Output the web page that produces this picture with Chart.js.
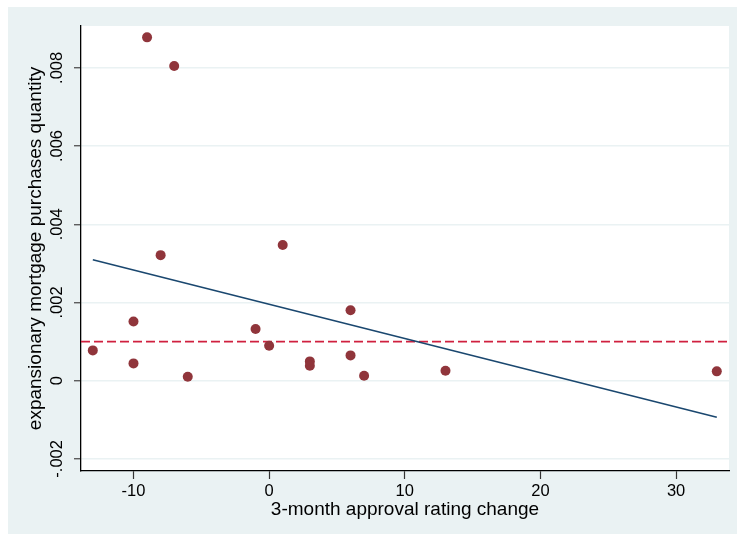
<!DOCTYPE html>
<html>
<head>
<meta charset="utf-8">
<script src="https://cdn.jsdelivr.net/npm/chart.js@4.4.1/dist/chart.umd.min.js"></script>
<style>
  html, body { margin: 0; padding: 0; background: #ffffff; }
  #wrap { width: 737px; height: 540px; }
</style>
</head>
<body>
<div id="wrap"><canvas id="c" width="737" height="540"></canvas></div>
<script>
// ---- data ----
const approvalChange = [-13, -10, -10, -9, -8, -7, -6, -1, 0, 1, 3, 3, 6, 6, 7, 13, 33];
const mortgagePurchases = [0.000774, 0.001515, 0.000442, 0.00878, 0.00321, 0.008046, 0.000102,
  0.00132, 0.000894, 0.00347, 0.000493, 0.000383, 0.0018, 0.000646, 0.000128, 0.000255, 0.000238];
const fitX = [-13, 33];
const fitY = [0.00309, -0.000937];
const refLineY = 0.001;
const xTickValues = [-10, 0, 10, 20, 30];
const xTickLabels = ['-10', '0', '10', '20', '30'];
const yTickValues = [-0.002, 0, 0.002, 0.004, 0.006, 0.008];
const yTickLabels = ['-.002', '0', '.002', '.004', '.006', '.008'];
const xRange = [-13.87, 33.9];
const yRange = [-0.00231, 0.00907];
const xTitle = '3-month approval rating change';
const yTitle = 'expansionary mortgage purchases quantity';

const scatterData = approvalChange.map((x, i) => ({ x: x, y: mortgagePurchases[i] }));
const fitData = fitX.map((x, i) => ({ x: x, y: fitY[i] }));
const refData = xRange.map(x => ({ x: x, y: refLineY }));

const bgPlugin = {
  id: 'bg',
  beforeDraw(chart) {
    const ctx = chart.ctx, a = chart.chartArea;
    ctx.save();
    ctx.fillStyle = '#ffffff';
    ctx.fillRect(0, 0, chart.width, chart.height);
    ctx.fillStyle = '#eaf2f3';
    ctx.fillRect(8, 7, chart.width - 8, 527);
    ctx.fillStyle = '#ffffff';
    ctx.fillRect(a.left, a.top, a.right - a.left, a.bottom - a.top);
    ctx.restore();
  }
};

const FONT = "'Liberation Sans', Arial, sans-serif";

new Chart(document.getElementById('c'), {
  type: 'scatter',
  data: {
    datasets: [
      {
        label: 'points',
        data: scatterData,
        backgroundColor: '#90353b',
        borderWidth: 0,
        pointRadius: 5,
        pointHoverRadius: 5
      },
      {
        type: 'line',
        label: 'fit',
        data: fitData,
        borderColor: '#1a476f',
        borderWidth: 1.6,
        pointRadius: 0,
        fill: false
      },
      {
        type: 'line',
        label: 'ref',
        data: refData,
        borderColor: '#d0203f',
        borderWidth: 1.8,
        borderDash: [9, 4],
        pointRadius: 0,
        fill: false
      }
    ]
  },
  options: {
    responsive: false,
    animation: false,
    events: [],
    layout: { padding: { top: 26, right: 8, bottom: 0, left: 0 } },
    plugins: { legend: { display: false }, tooltip: { enabled: false } },
    scales: {
      x: {
        type: 'linear',
        min: xRange[0],
        max: xRange[1],
        afterBuildTicks: s => { s.ticks = xTickValues.map(v => ({ value: v })); },
        afterFit: s => { s.height = 69; },
        ticks: {
          callback: (v) => { const i = xTickValues.indexOf(v); return i >= 0 ? xTickLabels[i] : ''; },
          font: { family: FONT, size: 16.5 },
          color: '#000000',
          padding: 3,
          maxRotation: 0,
          minRotation: 0
        },
        grid: { drawOnChartArea: false, drawTicks: true, tickLength: 8, tickColor: '#333333', tickWidth: 1.2 },
        border: { display: true, color: '#000000', width: 1.3 },
        title: { display: true, text: xTitle, font: { family: FONT, size: 19 }, color: '#000000', padding: { top: 0, bottom: 19 } }
      },
      y: {
        type: 'linear',
        min: yRange[0],
        max: yRange[1],
        afterBuildTicks: s => { s.ticks = yTickValues.map(v => ({ value: v })); },
        afterFit: s => { s.width = 81; },
        ticks: {
          callback: (v) => { const i = yTickValues.findIndex(t => Math.abs(t - v) < 1e-9); return i >= 0 ? yTickLabels[i] : ''; },
          font: { family: FONT, size: 16.5 },
          color: '#000000',
          padding: -2,
          minRotation: 90,
          maxRotation: 90,
          crossAlign: 'center'
        },
        grid: { color: '#eaf2f3', lineWidth: 1.5, drawTicks: true, tickLength: 7, tickColor: '#444444', tickWidth: 1.2 },
        border: { display: true, color: '#000000', width: 1.3 },
        title: { display: true, text: yTitle, font: { family: FONT, size: 19 }, color: '#000000', padding: { top: 24, bottom: 0 } }
      }
    }
  },
  plugins: [bgPlugin]
});
</script>
</body>
</html>
